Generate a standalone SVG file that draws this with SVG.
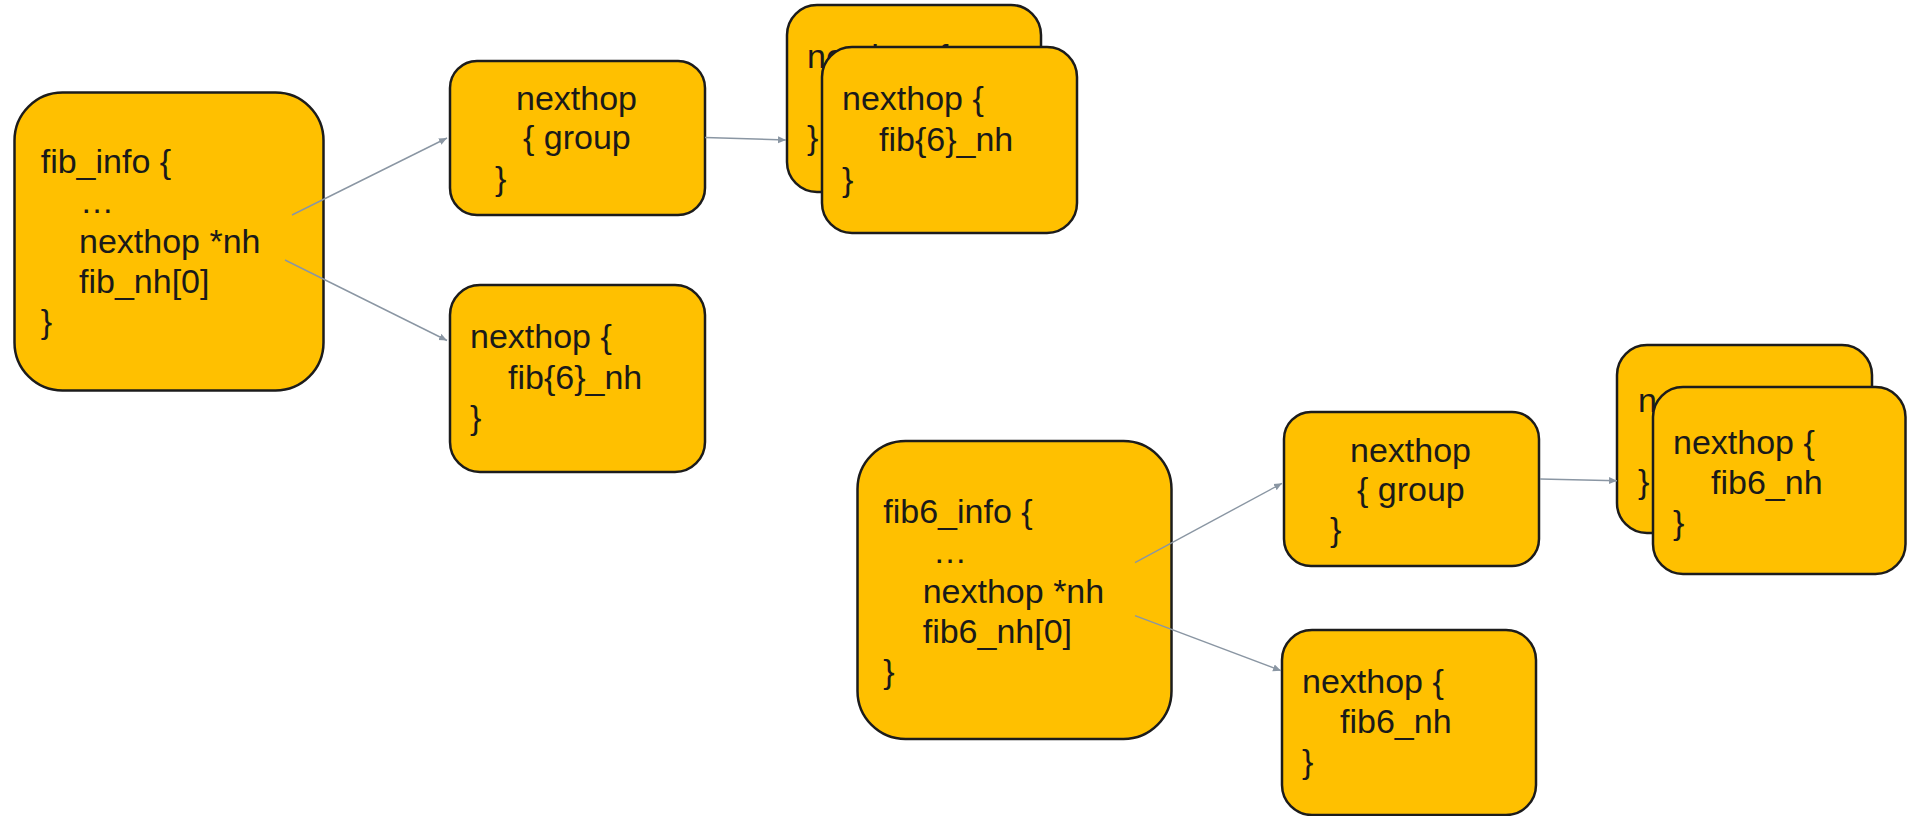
<svg xmlns="http://www.w3.org/2000/svg" width="1907" height="816" viewBox="0 0 1907 816">
<style>
  .box { fill: #FFC000; stroke: #1c1c1c; stroke-width: 2.5; }
  .t { font-family: "Liberation Sans", Arial, sans-serif; font-size: 34px; fill: #1a1a1a; }
  .c { stroke: #8a96a3; stroke-width: 1.4; fill: none; marker-end: url(#arr); }
</style>
<defs>
  <marker id="arr" markerUnits="userSpaceOnUse" markerWidth="9" markerHeight="8" refX="8" refY="4" orient="auto">
    <path d="M0,0.5 L8,4 L0,7.5 Z" fill="#8a96a3"/>
  </marker>
</defs>
<rect width="1907" height="816" fill="#ffffff"/>

<g id="fib_info">
  <rect class="box" x="14.5" y="92.5" width="309" height="298" rx="48"/>
  <text class="t" x="40.7" y="173">fib_info {</text>
  <text class="t" x="80" y="213">…</text>
  <text class="t" x="79" y="253">nexthop *nh</text>
  <text class="t" x="79" y="293">fib_nh[0]</text>
  <text class="t" x="40.7" y="333">}</text>
</g>

<g id="nexthop_group_1">
  <rect class="box" x="450" y="61" width="255" height="154" rx="27"/>
  <text class="t" x="516" y="110">nexthop</text>
  <text class="t" x="523" y="149">{ group</text>
  <text class="t" x="495" y="190">}</text>
</g>

<g id="nexthop_fib_nh_1">
  <rect class="box" x="450" y="285" width="255" height="187" rx="30"/>
  <text class="t" x="470" y="348">nexthop {</text>
  <text class="t" x="508" y="388.5">fib{6}_nh</text>
  <text class="t" x="470" y="429">}</text>
</g>

<g id="nexthop_stack_back_1">
  <rect class="box" x="787" y="5" width="254" height="187" rx="30"/>
  <text class="t" x="807" y="68">nexthop {</text>
  <text class="t" x="845" y="109">fib{6}_nh</text>
  <text class="t" x="807" y="149">}</text>
</g>

<g id="nexthop_stack_front_1">
  <rect class="box" x="822" y="47" width="255" height="186" rx="30"/>
  <text class="t" x="842" y="110">nexthop {</text>
  <text class="t" x="879" y="151">fib{6}_nh</text>
  <text class="t" x="842" y="191">}</text>
</g>

<g id="fib6_info">
  <rect class="box" x="857.5" y="441" width="314" height="298" rx="48"/>
  <text class="t" x="883.3" y="523">fib6_info {</text>
  <text class="t" x="933" y="563">…</text>
  <text class="t" x="922.7" y="603">nexthop *nh</text>
  <text class="t" x="922.7" y="643">fib6_nh[0]</text>
  <text class="t" x="883.3" y="683">}</text>
</g>

<g id="nexthop_group_2">
  <rect class="box" x="1284" y="412" width="255" height="154" rx="27"/>
  <text class="t" x="1350" y="461.7">nexthop</text>
  <text class="t" x="1357" y="500.5">{ group</text>
  <text class="t" x="1330" y="541">}</text>
</g>

<g id="nexthop_fib6_nh_2">
  <rect class="box" x="1282" y="630" width="254" height="185" rx="30"/>
  <text class="t" x="1302" y="693">nexthop {</text>
  <text class="t" x="1340" y="733">fib6_nh</text>
  <text class="t" x="1302" y="773">}</text>
</g>

<g id="nexthop_stack_back_2">
  <rect class="box" x="1617" y="345" width="255" height="188" rx="30"/>
  <text class="t" x="1638" y="412">nexthop {</text>
  <text class="t" x="1676" y="452">fib6_nh</text>
  <text class="t" x="1638" y="493">}</text>
</g>

<g id="nexthop_stack_front_2">
  <rect class="box" x="1653" y="387" width="252.5" height="187" rx="30"/>
  <text class="t" x="1673" y="453.5">nexthop {</text>
  <text class="t" x="1711" y="494">fib6_nh</text>
  <text class="t" x="1673" y="534">}</text>
</g>

<g id="connectors">
  <line class="c" x1="292" y1="215" x2="447" y2="138"/>
  <line class="c" x1="285" y1="260" x2="447" y2="340.5"/>
  <line class="c" x1="705" y1="137.5" x2="786" y2="140"/>
  <line class="c" x1="1135" y1="562.7" x2="1282" y2="483.3"/>
  <line class="c" x1="1135" y1="615.7" x2="1281" y2="670.7"/>
  <line class="c" x1="1540" y1="479" x2="1617" y2="480.7"/>
</g>
</svg>
